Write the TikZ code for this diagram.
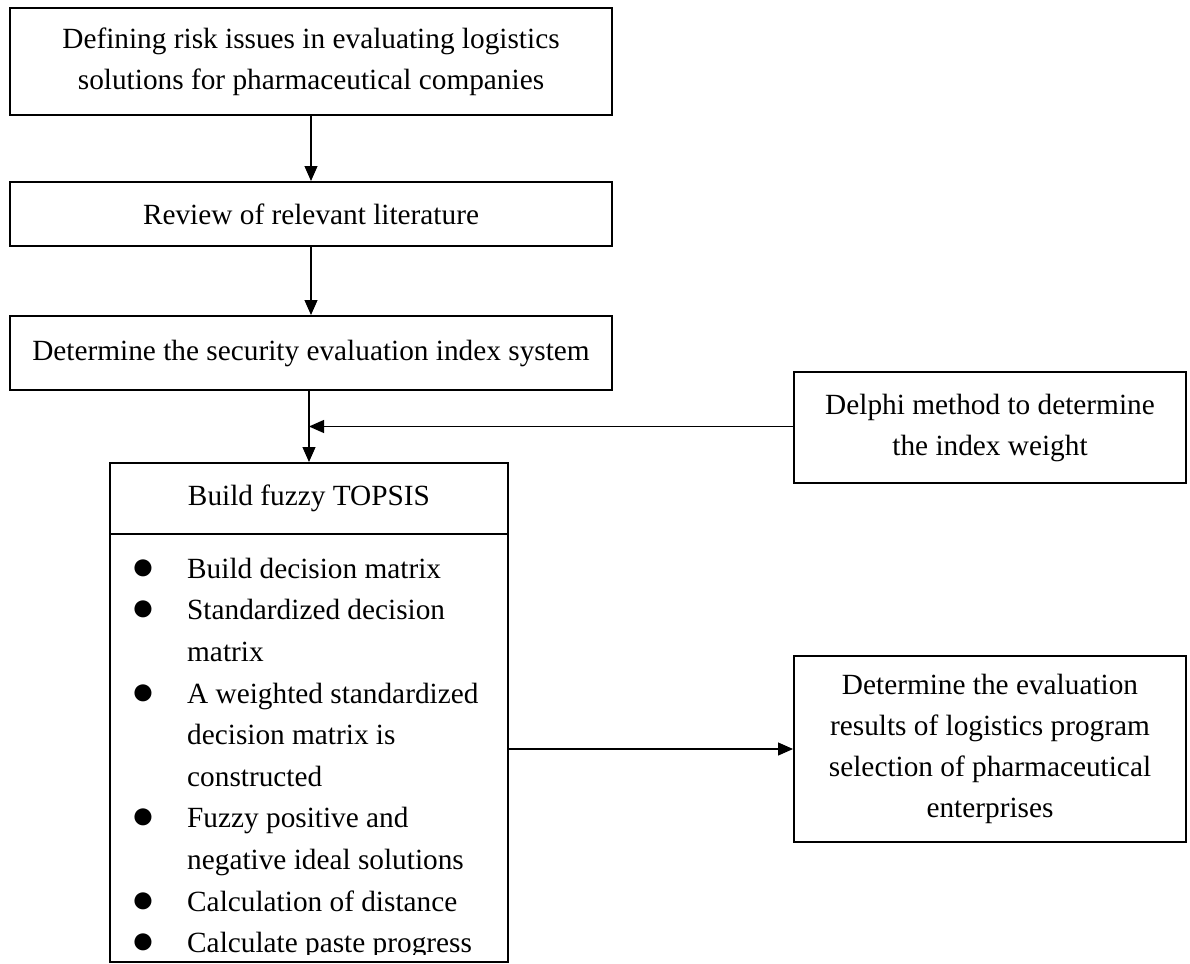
\documentclass[tikz,border=0pt]{standalone}
\usepackage{fontspec}
\setmainfont{Liberation Serif}
\usepackage{tikz}
\usetikzlibrary{arrows.meta, positioning, calc}
\newcommand{\stepdot}{\raisebox{-1pt}{\scalebox{1.35}{●}}}

\begin{document}
\begin{tikzpicture}[
    x=1pt, y=-1pt,
    every node/.style={font=\fontsize{29.3}{41}\selectfont},
    sbox/.style 2 args={rectangle, draw=black, line width=2pt, inner sep=0pt,
        minimum width=#1, minimum height=#2, align=center},
    arr/.style={-{Triangle[length=15pt, width=13pt]}, line width=1.2pt}
]
\useasboundingbox (0,0) rectangle (1190,963);

% Left column
\node[sbox={602pt}{107pt}] (define) at (311,61.5) {Defining risk issues in evaluating logistics\\solutions for pharmaceutical companies};
\node[sbox={602pt}{64pt}] (review) at (311,214) {Review of relevant literature};
\node[sbox={602pt}{74pt}] (index) at (311,353) {Determine the security evaluation index system};

\draw[arr] (define) -- (review);
\draw[arr] (review) -- (index);

% Right side boxes
\node[sbox={392pt}{111pt}] (delphi) at (990,427.5) {Delphi method to determine\\the index weight};
\node[sbox={392pt}{186pt}] (result) at (990,749) {Determine the evaluation\\results of logistics program\\selection of pharmaceutical\\enterprises};

% Fuzzy TOPSIS block
\node[sbox={398pt}{71pt}] (topsis) at (309,498.5) {Build fuzzy TOPSIS};
\node[sbox={398pt}{428pt}] (steps) at (309,748) {};

\begin{scope}
\clip (steps.north west) rectangle ([yshift=9pt]steps.south east);
\node[anchor=north west, inner sep=0pt, font=\fontsize{29.3}{41.6}\selectfont] (list) at (131,549) {%
  \begin{tabular}{@{}p{56pt}@{}l@{}}
  \stepdot & Build decision matrix\\
  \stepdot & Standardized decision\\
           & matrix\\
  \stepdot & A weighted standardized\\
           & decision matrix is\\
           & constructed\\
  \stepdot & Fuzzy positive and\\
           & negative ideal solutions\\
  \stepdot & Calculation of distance\\
  \stepdot & Calculate paste progress
  \end{tabular}};
\end{scope}

\coordinate (meet) at ($(topsis.north)!0.5!(index.south -| topsis.north)$);
\draw[arr] (index.south -| topsis.north) -- (topsis.north);
\draw[arr] (delphi.west |- meet) -- (meet);
\draw[arr] (steps.east |- result.west) -- (result.west);

\end{tikzpicture}
\end{document}
